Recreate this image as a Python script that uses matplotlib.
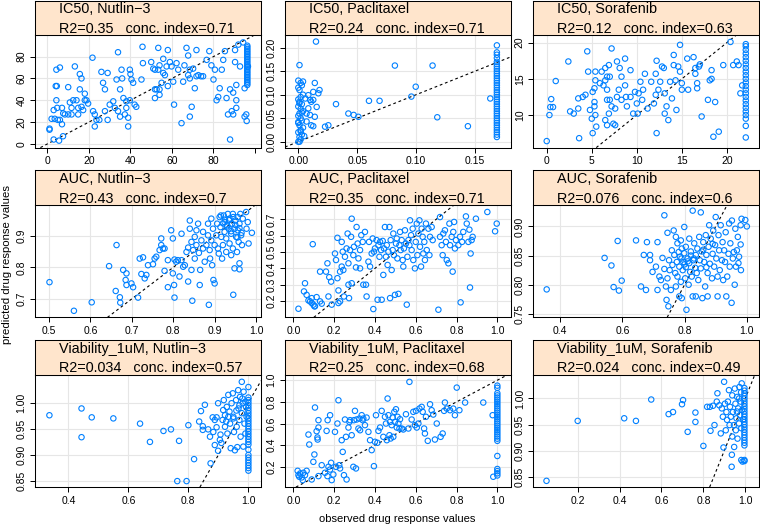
import matplotlib.pyplot as plt
import matplotlib as mtpl
import numpy as np

mtpl.rcParams['font.family'] = ['Liberation Sans', 'DejaVu Sans']

point_col = '#0080ff'
strip_col = '#ffe5cc'
grid_col = '#e6e6e6'

W, H = 760, 526

# strip titles and stats (row by row)
titles = ['IC50, Nutlin\u22123', 'IC50, Paclitaxel', 'IC50, Sorafenib',
          'AUC, Nutlin\u22123', 'AUC, Paclitaxel', 'AUC, Sorafenib',
          'Viability_1uM, Nutlin\u22123', 'Viability_1uM, Paclitaxel', 'Viability_1uM, Sorafenib']
r2 = ['0.35', '0.24', '0.12', '0.43', '0.35', '0.076', '0.034', '0.25', '0.024']
cindex = ['0.71', '0.71', '0.63', '0.7', '0.71', '0.6', '0.57', '0.68', '0.49']

##### DATA #####

# IC50, Nutlin-3
ic50_nut_x = [1, 1, 2, 3, 3.5, 4, 4.5, 4.3, 6, 4.3, 4.7, 5, 6, 7, 5.6, 7.5, 3, 7, 7.6, 8.4, 10, 11.6,
              10, 10.8, 11.6, 12.4, 13.2, 14, 14.8, 14.8, 15.6, 15.6, 16.4, 16.4, 17.2, 18, 18, 18.8, 19.6,
              21.7, 22, 22.8, 22.8, 23.6, 25, 26, 26.8, 27.7, 27.7, 29, 29, 30, 31.7, 32.5, 33.3, 34, 34,
              35, 35, 35.7, 36, 36.6, 37.3, 38, 38.9, 38.9, 38, 39.7, 39.7, 40, 40.5, 41.3, 42, 42.8,
              45.3, 45.8, 46, 50, 51, 51.8, 51.8, 51.8, 52.6, 53.4, 53.4, 54, 54, 54, 55, 55.8, 55.8,
              56.6, 57.4, 58, 58, 59, 59.8, 60.6, 61, 62.2, 63, 64.6, 65.4, 66, 67, 67.8, 67.8, 68.6,
              68.6, 68.6, 69.5, 70.2, 71, 71.8, 71.8, 72.7, 74, 75, 76.7, 78, 79, 80, 80.7, 81.5, 82.3,
              83, 84, 84.7, 85.5, 86.3, 87, 88, 88, 88.8, 89.5, 89.5, 90.4, 90.4, 91, 91, 91, 92, 92.8,
              94.3, 95, 95, 95.8, 96, 96.6]
ic50_nut_y = [14, 13, 23, 31, 23, 53, 53, 68, 70, 40, 33, 22, 22, 18, 3, 7, 4, 33, 28, 27, 27, 27,
              52, 38, 33, 40, 71, 40, 33, 27, 64, 50, 60, 34, 31, 46, 40, 40, 37,
              79, 30, 27, 16, 22, 22, 66, 56, 50, 30, 22, 65, 36, 39, 33, 59, 84, 30,
              25, 50, 68, 60, 42, 27, 33, 16, 24, 39, 40, 68, 64, 59, 56, 36, 34,
              59, 89, 74, 75, 69, 68, 50, 42, 50, 88, 68, 72, 50, 45, 56, 78, 65,
              63, 71, 86, 53, 75, 71, 57, 36, 74, 68, 19, 57, 72, 88, 81, 63, 68,
              60, 25, 34, 69, 51, 86, 62, 63, 62, 62, 77, 85, 72, 59, 68, 40, 43,
              51, 68, 77, 85, 42, 27, 4, 50, 30, 47, 27, 86, 75, 40, 33, 54, 91, 71,
              93, 51, 25, 27, 21, 71]
ic50_nut_col_x = 96.3
ic50_nut_col_y = [54, 55.5, 57, 58.5, 60, 61.5, 63, 64.5, 66, 67.5, 69, 70.5, 72, 73.5, 75, 76.5,
                  78, 79.5, 81, 82.5, 84, 85.5, 87, 88.5, 90]

# IC50, Paclitaxel
ic50_pac_x = [0.001, 0.015, 0.004, 0.006, 0.0085, 0.01, 0.0127, 0.014, 0.017, 0.018, 0.0156, 0.014,
              0.011, 0.0127, 0.007, 0.0085, 0.0099, 0.007, 0.011, 0.0127, 0.0227, 0.0255, 0.032,
              0.0425, 0.047, 0.051, 0.060, 0.069, 0.082, 0.0997, 0.096, 0.114, 0.118, 0.144, 0.163,
              0.0, 0.002, 0.001, 0.003, 0.0, 0.002, 0.004, 0.001, 0.0, 0.003, 0.002, 0.0, 0.001,
              0.004, 0.002, 0.0, 0.003, 0.001, 0.0, 0.002, 0.004, 0.001, 0.0, 0.003, 0.002, 0.0,
              0.001, 0.005, 0.002, 0.0, 0.003, 0.001]
ic50_pac_y = [0.163, 0.213, 0.128, 0.092, 0.099, 0.089, 0.106, 0.125, 0.103, 0.11, 0.074, 0.053,
              0.035, 0.033, 0.06, 0.071, 0.057, 0.043, 0.085, 0.089, 0.032, 0.035, 0.080,
              0.06, 0.057, 0.053, 0.087, 0.087, 0.162, 0.117, 0.096, 0.162, 0.052, 0.033, 0.092,
              0.0, 0.005, 0.01, 0.015, 0.02, 0.025, 0.03, 0.035, 0.04, 0.045, 0.05, 0.055, 0.06,
              0.065, 0.07, 0.075, 0.08, 0.085, 0.09, 0.095, 0.10, 0.11, 0.115, 0.12, 0.125, 0.13,
              0.0, 0.012, 0.022, 0.042, 0.062, 0.082]
ic50_pac_col_x = 0.1686
ic50_pac_col_y = [0.205, 0.19, 0.185, 0.178, 0.17, 0.165, 0.16, 0.155, 0.15, 0.145, 0.14, 0.135,
                  0.13, 0.125, 0.12, 0.115, 0.11, 0.105, 0.10, 0.095, 0.09, 0.085, 0.08, 0.075,
                  0.07, 0.065, 0.06, 0.055, 0.05, 0.045, 0.04, 0.035, 0.03, 0.025, 0.02, 0.015, 0.01]

# IC50, Sorafenib
ic50_sor_x = [0, 0.3, 0.4, 0.7, 0.5, 1, 2.4, 2.6, 3, 3.5, 4, 4.3, 3.6, 3.5, 4.5, 4.6, 4.8, 5, 5.1,
              5.3, 5.4, 5.4, 5.3, 5.3, 5.4, 5.5, 5.1, 5.9, 6.1, 6.3, 6.5, 6.5, 6.7, 6.9, 6.7, 6.7,
              6.5, 6.7, 6.9, 7.0, 7.0, 7.2, 7.2, 7.4, 7.6, 7.6, 7.8, 7.8, 8, 8.1, 8.3, 8.3, 8.7,
              8.7, 8.8, 8.9, 9.3, 9.3, 9.6, 9.8, 10, 10.2, 10.4, 10.6, 10.7, 10.1, 10.9, 11.2,
              11.6, 11.9, 12.1, 12.1, 12.2, 12.2, 12.4, 12.6, 12.8, 13, 13.1, 13.1, 13.3, 13.5,
              13.7, 13.9, 14.1, 14.1, 14.3, 14.4, 14.6, 14.8, 14.8, 15, 15, 15.6, 15.7, 16.3,
              16.5, 16.5, 16.7, 16.7, 16.9, 17, 17.2, 17.9, 18.1, 18.3, 18.3, 18.5, 18.7, 19.1,
              19.6, 20.4, 20.7, 21.1, 21.3, 21.5, 21.7]
ic50_sor_y = [6.4, 10, 11.1, 11.1, 12.2, 14.7, 17.4, 10.5, 10.2, 12.3, 12.5, 12.8, 6.8, 10.9, 18.8,
              16, 10.7, 9.5, 13.2, 13.7, 14.8, 16, 11.8, 11.2, 10, 8.4, 7.5, 14.4, 16, 14.1, 16.5,
              14.8, 15.3, 16.9, 13.5, 12.1, 9.3, 8.6, 10.2, 15.3, 12.1, 19.2, 11.2, 8.8, 10.9,
              8.6, 17.4, 12.5, 13.5, 16.5, 15.3, 12.1, 17.8, 14.1, 12.5, 11.2, 16.2, 12.5, 10.2,
              13.2, 11.6, 13, 14.6, 12.1, 13.5, 10.2, 15.7, 10.9, 14.6, 11.6, 15.7, 12.8, 17.5,
              7.5, 13.5, 14.6, 16.7, 16.5, 13, 10.2, 11.2, 9.3, 14.6, 12.3, 18.3, 16.9, 14.8,
              10.7, 16.7, 16, 19.7, 14.4, 13.5, 17.8, 13.5, 18, 16.5, 15.7, 14.4, 13.7, 16.7, 17,
              9.8, 12.1, 14.8, 15, 16.2, 7, 11.8, 7.7, 16.9, 20.1, 16.9, 17.4, 16.9, 13, 14.1]
ic50_sor_col_x = 22.1
ic50_sor_col_y = [6.9, 8.5, 9.5, 10, 10.5, 11, 11.5, 12, 12.5, 13, 13.5, 14, 14.5, 15, 15.5, 16,
                  16.5, 17, 17.5, 18, 18.5, 19, 19.5, 19.8]

# AUC, Nutlin-3
auc_nut_x = [0.501, 0.56, 0.603, 0.645, 0.663, 0.661, 0.671, 0.672, 0.679, 0.687, 0.685, 0.687,
             0.699, 0.703, 0.715, 0.719, 0.727, 0.723, 0.731, 0.735, 0.739, 0.751, 0.755, 0.759,
             0.767, 0.771, 0.771, 0.775, 0.779, 0.779, 0.787, 0.787, 0.795, 0.799, 0.799, 0.802,
             0.803, 0.803, 0.807, 0.811, 0.815, 0.82, 0.82, 0.824, 0.828, 0.832, 0.836, 0.84,
             0.836, 0.84, 0.844, 0.844, 0.846, 0.848, 0.852, 0.852, 0.856, 0.856, 0.86, 0.862,
             0.864, 0.865, 0.868, 0.872, 0.872, 0.876, 0.88, 0.884, 0.884, 0.886, 0.888, 0.889,
             0.892, 0.892, 0.894, 0.896, 0.897, 0.9, 0.9, 0.904, 0.906, 0.908, 0.91, 0.912, 0.914,
             0.916, 0.918, 0.92, 0.922, 0.924, 0.924, 0.928, 0.928, 0.93, 0.932, 0.934, 0.936,
             0.936, 0.94, 0.94, 0.942, 0.944, 0.944, 0.945, 0.948, 0.948, 0.95, 0.952, 0.954,
             0.956, 0.956, 0.958, 0.96, 0.96, 0.962, 0.964, 0.966, 0.968, 0.96, 0.976, 0.977, 0.98,
             0.982, 0.99, 0.93, 0.94, 0.95, 0.96, 0.92, 0.935, 0.945, 0.955, 0.965, 0.925, 0.915]
auc_nut_y = [0.753, 0.662, 0.689, 0.804, 0.871, 0.725, 0.705, 0.688, 0.792, 0.781, 0.76, 0.744,
             0.749, 0.737, 0.704, 0.828, 0.832, 0.779, 0.765, 0.776, 0.807, 0.81, 0.828, 0.834,
             0.855, 0.871, 0.892, 0.86, 0.789, 0.86, 0.737, 0.823, 0.918, 0.892, 0.781, 0.744,
             0.704, 0.825, 0.818, 0.823, 0.771, 0.907, 0.823, 0.802, 0.807, 0.849, 0.863, 0.949,
             0.755, 0.923, 0.881, 0.792, 0.694, 0.855, 0.897, 0.828, 0.918, 0.871, 0.939, 0.846,
             0.744, 0.792, 0.886, 0.913, 0.86, 0.818, 0.871, 0.939, 0.902, 0.681, 0.855, 0.828,
             0.955, 0.886, 0.807, 0.923, 0.76, 0.871, 0.749, 0.902, 0.939, 0.86, 0.844, 0.96,
             0.928, 0.897, 0.828, 0.871, 0.965, 0.913, 0.944, 0.892, 0.849, 0.934, 0.97, 0.923,
             0.876, 0.955, 0.907, 0.839, 0.939, 0.97, 0.86, 0.713, 0.923, 0.797, 0.949, 0.897,
             0.849, 0.96, 0.918, 0.881, 0.939, 0.813, 0.97, 0.902, 0.871, 0.955, 0.794, 0.976,
             0.923, 0.944, 0.876, 0.91, 0.93, 0.915, 0.935, 0.925, 0.94, 0.95, 0.96, 0.895, 0.91,
             0.952, 0.965]

# AUC, Paclitaxel
auc_pac_x = [0.025, 0.057, 0.052, 0.065, 0.074, 0.082, 0.09, 0.098, 0.103, 0.09, 0.114, 0.095,
             0.106, 0.131, 0.139, 0.131, 0.16, 0.167, 0.172, 0.176, 0.185, 0.188, 0.204, 0.209,
             0.216, 0.216, 0.221, 0.221, 0.229, 0.229, 0.237, 0.237, 0.242, 0.245, 0.248, 0.253,
             0.261, 0.266, 0.27, 0.27, 0.273, 0.278, 0.283, 0.286, 0.286, 0.294, 0.297, 0.307,
             0.31, 0.315, 0.319, 0.327, 0.327, 0.333, 0.34, 0.343, 0.351, 0.356, 0.359, 0.368,
             0.371, 0.376, 0.384, 0.389, 0.392, 0.395, 0.4, 0.408, 0.413, 0.417, 0.422, 0.425,
             0.43, 0.433, 0.438, 0.441, 0.444, 0.449, 0.454, 0.458, 0.462, 0.466, 0.471, 0.474,
             0.477, 0.482, 0.487, 0.49, 0.493, 0.498, 0.503, 0.507, 0.51, 0.515, 0.52, 0.523,
             0.526, 0.531, 0.536, 0.539, 0.542, 0.547, 0.552, 0.556, 0.559, 0.564, 0.569, 0.572,
             0.577, 0.58, 0.585, 0.588, 0.596, 0.6, 0.605, 0.608, 0.613, 0.618, 0.621, 0.626,
             0.629, 0.634, 0.637, 0.642, 0.645, 0.65, 0.654, 0.662, 0.667, 0.67, 0.678, 0.683,
             0.711, 0.719, 0.719, 0.727, 0.732, 0.735, 0.743, 0.748, 0.752, 0.76, 0.765, 0.768,
             0.776, 0.781, 0.784, 0.788, 0.792, 0.797, 0.809, 0.817, 0.82, 0.827, 0.833, 0.846,
             0.85, 0.858, 0.863, 0.866, 0.869, 0.874, 0.879, 0.895, 0.989, 0.997, 0.951]
auc_pac_y = [0.153, 0.309, 0.259, 0.238, 0.204, 0.198, 0.188, 0.178, 0.168, 0.218, 0.224, 0.548,
             0.168, 0.38, 0.184, 0.198, 0.38, 0.431, 0.228, 0.346, 0.319, 0.178, 0.491, 0.451,
             0.587, 0.34, 0.265, 0.188, 0.38, 0.198, 0.562, 0.411, 0.502, 0.39, 0.228, 0.471,
             0.522, 0.613, 0.431, 0.3, 0.218, 0.512, 0.593, 0.704, 0.309, 0.481, 0.532, 0.406,
             0.653, 0.552, 0.461, 0.512, 0.4, 0.603, 0.562, 0.3, 0.623, 0.3, 0.228, 0.441,
             0.562, 0.411, 0.491, 0.583, 0.151, 0.502, 0.522, 0.573, 0.208, 0.542, 0.471, 0.562,
             0.512, 0.208, 0.568, 0.36, 0.522, 0.653, 0.471, 0.542, 0.421, 0.502, 0.653, 0.218,
             0.573, 0.39, 0.512, 0.613, 0.481, 0.238, 0.552, 0.583, 0.461, 0.244, 0.542, 0.623,
             0.512, 0.573, 0.451, 0.411, 0.522, 0.633, 0.552, 0.178, 0.471, 0.573, 0.542, 0.694,
             0.603, 0.512, 0.643, 0.451, 0.4, 0.562, 0.674, 0.481, 0.613, 0.694, 0.532, 0.411,
             0.643, 0.593, 0.491, 0.562, 0.451, 0.674, 0.512, 0.643, 0.481, 0.593, 0.653, 0.573,
             0.147, 0.714, 0.593, 0.542, 0.481, 0.613, 0.633, 0.562, 0.451, 0.431, 0.674, 0.542,
             0.593, 0.38, 0.623, 0.684, 0.522, 0.573, 0.542, 0.593, 0.192, 0.562, 0.623, 0.718,
             0.674, 0.562, 0.637, 0.283, 0.491, 0.573, 0.593, 0.704, 0.627, 0.674, 0.745]

# AUC, Sorafenib
auc_sor_x = [0.357, 0.543, 0.565, 0.585, 0.572, 0.589, 0.598, 0.644, 0.66, 0.669, 0.676, 0.679,
             0.689, 0.689, 0.697, 0.708, 0.713, 0.713, 0.719, 0.724, 0.729, 0.735, 0.735, 0.74,
             0.742, 0.745, 0.745, 0.748, 0.75, 0.752, 0.756, 0.759, 0.761, 0.765, 0.767, 0.77,
             0.772, 0.772, 0.775, 0.777, 0.777, 0.781, 0.783, 0.783, 0.785, 0.788, 0.788, 0.791,
             0.791, 0.794, 0.796, 0.799, 0.799, 0.802, 0.804, 0.804, 0.806, 0.81, 0.813, 0.815,
             0.815, 0.818, 0.82, 0.823, 0.826, 0.826, 0.828, 0.831, 0.834, 0.836, 0.836, 0.839,
             0.841, 0.844, 0.847, 0.849, 0.852, 0.852, 0.855, 0.857, 0.86, 0.863, 0.866, 0.868,
             0.87, 0.874, 0.874, 0.877, 0.879, 0.881, 0.884, 0.888, 0.89, 0.892, 0.895, 0.898,
             0.9, 0.902, 0.906, 0.906, 0.909, 0.911, 0.913, 0.916, 0.92, 0.922, 0.924, 0.927,
             0.93, 0.932, 0.934, 0.937, 0.941, 0.943, 0.945, 0.947, 0.951, 0.952, 0.955, 0.958,
             0.961, 0.963, 0.965, 0.968, 0.971, 0.973, 0.975, 0.98, 0.98, 0.983, 0.981, 0.995,
             1.0, 0.79, 0.80, 0.81, 0.82, 0.83, 0.86, 0.87, 0.89]
auc_sor_y = [0.792, 0.846, 0.833, 0.875, 0.796, 0.79, 0.807, 0.876, 0.797, 0.851, 0.791, 0.873,
             0.842, 0.851, 0.822, 0.831, 0.873, 0.791, 0.814, 0.808, 0.846, 0.919, 0.827, 0.797,
             0.774, 0.889, 0.811, 0.763, 0.842, 0.825, 0.791, 0.859, 0.834, 0.893, 0.851, 0.82,
             0.882, 0.797, 0.839, 0.871, 0.814, 0.856, 0.831, 0.78, 0.848, 0.876, 0.805, 0.862,
             0.777, 0.825, 0.839, 0.854, 0.899, 0.811, 0.865, 0.83, 0.757, 0.845, 0.8, 0.879,
             0.837, 0.822, 0.857, 0.814, 0.927, 0.78, 0.842, 0.871, 0.829, 0.851, 0.78, 0.82,
             0.862, 0.808, 0.882, 0.842, 0.828, 0.924, 0.857, 0.777, 0.873, 0.839, 0.797, 0.885,
             0.851, 0.82, 0.78, 0.865, 0.902, 0.836, 0.879, 0.811, 0.853, 0.893, 0.831, 0.868,
             0.916, 0.845, 0.814, 0.78, 0.885, 0.859, 0.825, 0.902, 0.842, 0.873, 0.808, 0.859,
             0.839, 0.89, 0.78, 0.814, 0.853, 0.905, 0.831, 0.871, 0.769, 0.91, 0.845, 0.856,
             0.8, 0.896, 0.831, 0.859, 0.882, 0.837, 0.848, 0.902, 0.869, 0.913, 0.825, 0.911,
             0.9, 0.845, 0.835, 0.84, 0.85, 0.845, 0.86, 0.83, 0.87]

# Viability_1uM, Nutlin-3
via_nut_x = [0.337, 0.444, 0.444, 0.478, 0.55, 0.639, 0.672, 0.717, 0.742, 0.769, 0.8, 0.763, 0.794,
             0.819, 0.836, 0.842, 0.848, 0.848, 0.855, 0.866, 0.872, 0.874, 0.881, 0.883, 0.888,
             0.888, 0.894, 0.894, 0.899, 0.899, 0.905, 0.907, 0.91, 0.914, 0.916, 0.918, 0.922,
             0.922, 0.926, 0.928, 0.93, 0.933, 0.933, 0.937, 0.939, 0.941, 0.944, 0.948, 0.95,
             0.952, 0.955, 0.959, 0.961, 0.963, 0.966, 0.967, 0.97, 0.972, 0.974, 0.978, 0.978,
             0.981, 0.983, 0.984, 0.987, 0.99, 0.992, 0.994, 0.96, 0.97, 0.98, 0.95, 0.99]
via_nut_y = [0.976, 0.989, 0.934, 0.972, 0.97, 0.96, 0.925, 0.946, 0.949, 0.927, 0.957, 0.85, 0.85,
             0.892, 0.964, 0.984, 0.955, 0.948, 0.996, 0.949, 0.935, 0.884, 0.972, 0.944, 0.967,
             0.919, 0.972, 0.953, 0.999, 0.908, 0.929, 0.939, 0.923, 0.967, 0.986, 1.005, 0.976,
             0.954, 0.964, 0.992, 0.941, 1.015, 0.973, 0.983, 0.96, 0.913, 0.999, 1.018, 0.973,
             0.944, 0.909, 1.005, 0.954, 0.915, 1.024, 0.989, 0.967, 1.011, 0.935, 1.04, 0.98,
             0.999, 0.916, 1.021, 0.96, 0.941, 0.992, 0.973, 0.985, 0.995, 1.008, 0.97, 1.002]
via_nut_col_x = 1.0
via_nut_col_y = [0.87, 0.875, 0.88, 0.885, 0.89, 0.895, 0.90, 0.91, 0.92, 0.925, 0.93, 0.935, 0.94,
                 0.945, 0.95, 0.955, 0.96, 0.965, 0.97, 0.975, 0.98, 0.985, 0.99, 0.995, 1.0,
                 1.005, 1.01, 1.03]

# Viability_1uM, Paclitaxel
via_pac_x = [0.021, 0.025, 0.029, 0.033, 0.041, 0.046, 0.049, 0.057, 0.065, 0.074, 0.078, 0.09,
             0.098, 0.103, 0.106, 0.114, 0.118, 0.119, 0.123, 0.123, 0.123, 0.139, 0.155, 0.163,
             0.168, 0.167, 0.172, 0.18, 0.18, 0.185, 0.188, 0.196, 0.204, 0.209, 0.216, 0.221,
             0.225, 0.229, 0.237, 0.242, 0.248, 0.253, 0.258, 0.261, 0.27, 0.275, 0.278, 0.286,
             0.294, 0.297, 0.302, 0.307, 0.31, 0.319, 0.324, 0.327, 0.335, 0.34, 0.343, 0.351,
             0.359, 0.368, 0.376, 0.384, 0.395, 0.4, 0.405, 0.412, 0.417, 0.425, 0.433, 0.441,
             0.449, 0.454, 0.458, 0.462, 0.466, 0.471, 0.474, 0.477, 0.482, 0.487, 0.49, 0.495,
             0.498, 0.503, 0.507, 0.511, 0.515, 0.52, 0.523, 0.531, 0.539, 0.552, 0.564, 0.569,
             0.58, 0.588, 0.596, 0.601, 0.605, 0.613, 0.618, 0.629, 0.634, 0.641, 0.645, 0.65,
             0.659, 0.67, 0.678, 0.686, 0.694, 0.703, 0.722, 0.732, 0.739, 0.743, 0.752, 0.768,
             0.784, 0.792, 0.801, 0.814, 0.842, 0.931, 0.977, 0.98]
via_pac_y = [0.163, 0.123, 0.108, 0.138, 0.102, 0.077, 0.145, 0.123, 0.163, 0.498, 0.406, 0.083,
             0.246, 0.314, 0.748, 0.529, 0.471, 0.452, 0.631, 0.563, 0.114, 0.215, 0.145, 0.532,
             0.631, 0.114, 0.2, 0.175, 0.677, 0.237, 0.077, 0.129, 0.523, 0.2, 0.6, 0.815,
             0.215, 0.185, 0.446, 0.338, 0.123, 0.637, 0.477, 0.083, 0.563, 0.615, 0.631, 0.492,
             0.2, 0.631, 0.717, 0.185, 0.637, 0.554, 0.646, 0.538, 0.677, 0.631, 0.646, 0.585,
             0.655, 0.523, 0.446, 0.354, 0.206, 0.431, 0.677, 0.422, 0.532, 0.563, 0.717, 0.477,
             0.662, 0.6, 0.446, 0.831, 0.677, 0.492, 0.615, 0.462, 0.585, 0.655, 0.477, 0.708,
             0.615, 0.732, 0.563, 0.662, 0.6, 0.554, 0.64, 0.554, 0.545, 0.686, 0.554, 0.985,
             0.637, 0.708, 0.585, 0.717, 0.563, 0.6, 0.738, 0.754, 0.708, 0.554, 0.508, 0.662,
             0.44, 0.778, 0.723, 0.683, 0.452, 0.6, 0.477, 0.508, 0.717, 0.794, 0.738, 0.723,
             0.738, 0.677, 0.932, 0.723, 0.794, 0.794, 0.677, 0.108]
via_pac_col_x = 1.0
via_pac_col_y = [0.95, 0.93, 0.88, 0.86, 0.84, 0.82, 0.8, 0.78, 0.76, 0.74, 0.72, 0.7, 0.68, 0.66,
                 0.64, 0.62, 0.6, 0.58, 0.56, 0.54, 0.52, 0.5, 0.48, 0.46, 0.44, 0.3, 0.18, 0.16,
                 0.14, 0.12]

# Viability_1uM, Sorafenib
via_sor_x = [0.051, 0.2, 0.422, 0.478, 0.551, 0.634, 0.655, 0.698, 0.703, 0.725, 0.762, 0.762, 0.8,
             0.818, 0.831, 0.834, 0.846, 0.853, 0.864, 0.867, 0.876, 0.883, 0.888, 0.893, 0.896,
             0.899, 0.903, 0.907, 0.91, 0.913, 0.917, 0.922, 0.925, 0.927, 0.931, 0.935, 0.936,
             0.938, 0.938, 0.941, 0.946, 0.947, 0.95, 0.953, 0.955, 0.958, 0.961, 0.963, 0.966,
             0.97, 0.972, 0.975, 0.978, 0.981, 0.981, 0.983, 0.985, 0.987, 0.96, 0.97, 0.98, 0.99]
via_sor_y = [0.842, 0.957, 0.962, 0.957, 0.998, 0.97, 0.974, 0.989, 0.997, 0.936, 0.973, 0.955,
             0.909, 0.984, 0.984, 0.938, 0.986, 0.949, 0.994, 1.01, 0.987, 0.933, 0.981, 0.965,
             0.906, 1.032, 0.99, 0.939, 0.974, 0.959, 0.994, 1.016, 0.949, 0.984, 0.965, 0.869,
             0.892, 1.006, 0.927, 0.974, 0.949, 0.907, 1.019, 0.99, 0.939, 0.962, 1.003, 0.923,
             0.981, 0.952, 1.022, 0.968, 0.994, 0.882, 0.943, 1.029, 0.978, 0.879, 0.975, 1.0,
             1.012, 0.96]
via_sor_col_x = 0.996
via_sor_col_y = [0.88, 0.882, 0.91, 0.915, 0.92, 0.925, 0.93, 0.935, 0.94, 0.945, 0.95, 0.955, 0.96,
                 0.965, 0.97, 0.975, 0.98, 0.985, 0.99, 0.995, 1.0, 1.005, 1.01, 1.015, 1.02]

panel_x = [ic50_nut_x + [ic50_nut_col_x] * len(ic50_nut_col_y),
           ic50_pac_x + [ic50_pac_col_x] * len(ic50_pac_col_y),
           ic50_sor_x + [ic50_sor_col_x] * len(ic50_sor_col_y),
           auc_nut_x, auc_pac_x, auc_sor_x,
           via_nut_x + [via_nut_col_x] * len(via_nut_col_y),
           via_pac_x + [via_pac_col_x] * len(via_pac_col_y),
           via_sor_x + [via_sor_col_x] * len(via_sor_col_y)]
panel_y = [ic50_nut_y + ic50_nut_col_y, ic50_pac_y + ic50_pac_col_y, ic50_sor_y + ic50_sor_col_y,
           auc_nut_y, auc_pac_y, auc_sor_y,
           via_nut_y + via_nut_col_y, via_pac_y + via_pac_col_y, via_sor_y + via_sor_col_y]

# axis limits and ticks per panel
xlims = [(-6.0, 102.9), (-0.0113, 0.1806), (-1.49, 23.6),
         (0.466, 1.012), (-0.041, 1.067), (0.314, 1.04),
         (0.289, 1.042), (-0.041, 1.067), (-0.012, 1.067)]
ylims = [(-3.4, 99.8), (-0.0125, 0.227), (5.5, 21.06),
         (0.641, 0.999), (0.10, 0.789), (0.744, 0.937),
         (0.8385, 1.054), (0.0125, 1.053), (0.830, 1.046)]
xticks = [[0, 20, 40, 60, 80], [0.0, 0.05, 0.10, 0.15], [0, 5, 10, 15, 20],
          [0.5, 0.6, 0.7, 0.8, 0.9, 1.0], [0.0, 0.2, 0.4, 0.6, 0.8, 1.0], [0.4, 0.6, 0.8, 1.0],
          [0.4, 0.6, 0.8, 1.0], [0.0, 0.2, 0.4, 0.6, 0.8, 1.0], [0.2, 0.4, 0.6, 0.8, 1.0]]
yticks = [[0, 20, 40, 60, 80], [0.0, 0.05, 0.10, 0.15, 0.20], [10, 15, 20],
          [0.7, 0.8, 0.9], [0.2, 0.3, 0.4, 0.5, 0.6, 0.7], [0.75, 0.80, 0.85, 0.90],
          [0.85, 0.90, 0.95, 1.00], [0.2, 0.4, 0.6, 0.8, 1.0], [0.85, 0.90, 0.95, 1.00]]
xfmt = ['{:.0f}', '{:.2f}', '{:.0f}', '{:.1f}', '{:.1f}', '{:.1f}', '{:.1f}', '{:.1f}', '{:.1f}']
yfmt = ['{:.0f}', '{:.2f}', '{:.0f}', '{:.1f}', '{:.1f}', '{:.2f}', '{:.2f}', '{:.1f}', '{:.2f}']

# layout in pixels
col_left = [35, 285, 533.3]
panel_w = 226
row_top = [35, 204.8, 374.5]
panel_h = 112.6
strip_h = 34.5


def px_rect(left, top, w, h):
    return [left / W, 1 - (top + h) / H, w / W, h / H]


fig = plt.figure(figsize=(W / 100, H / 100), dpi=100)

for i in range(9):
    r, c = divmod(i, 3)
    ax = fig.add_axes(px_rect(col_left[c], row_top[r], panel_w, panel_h))
    ax.set_xlim(xlims[i])
    ax.set_ylim(ylims[i])

    for t in xticks[i]:
        ax.axvline(t, color=grid_col, lw=0.8, zorder=0)
    for t in yticks[i]:
        ax.axhline(t, color=grid_col, lw=0.8, zorder=0)

    ax.axline((0, 0), slope=1, color='black', lw=0.8, linestyle=(0, (2.5, 2.5)), zorder=2)
    ax.scatter(panel_x[i], panel_y[i], s=15, facecolors='none', edgecolors=point_col,
               linewidths=0.8, zorder=3, clip_on=False)

    ax.set_xticks(xticks[i])
    ax.set_xticklabels([xfmt[i].format(t) for t in xticks[i]])
    ax.set_yticks(yticks[i])
    ax.set_yticklabels([yfmt[i].format(t) for t in yticks[i]], rotation=90, va='center')
    ax.tick_params(length=3.6, width=0.7, labelsize=7.5, pad=2.5, direction='out')
    for s in ax.spines.values():
        s.set_linewidth(0.75)

    # strip on top of each panel
    sax = fig.add_axes(px_rect(col_left[c], row_top[r] - strip_h, panel_w, strip_h))
    sax.set_facecolor(strip_col)
    sax.set_xticks([])
    sax.set_yticks([])
    for s in sax.spines.values():
        s.set_linewidth(0.75)
    sax.text(24 / panel_w, 1 - 12.7 / strip_h, titles[i], fontsize=10.4, va='baseline',
             transform=sax.transAxes)
    sax.text(24 / panel_w, 1 - 32.5 / strip_h, 'R2=' + r2[i] + '   conc. index=' + cindex[i],
             fontsize=10.4, va='baseline', transform=sax.transAxes)

    # first panel has an unlabelled tick at 100
    if i == 0:
        ax.set_xticks([100], minor=True)
        ax.tick_params(which='minor', length=3.6, width=0.7, direction='out')

fig.text(397 / W, 1 - 519 / H, 'observed drug response values', fontsize=8, ha='center', va='center')
fig.text(7 / W, 1 - 264 / H, 'predicted drug response values', fontsize=8.2, ha='center', va='center',
         rotation=90)

plt.savefig('out.png', dpi=100)
plt.close()
